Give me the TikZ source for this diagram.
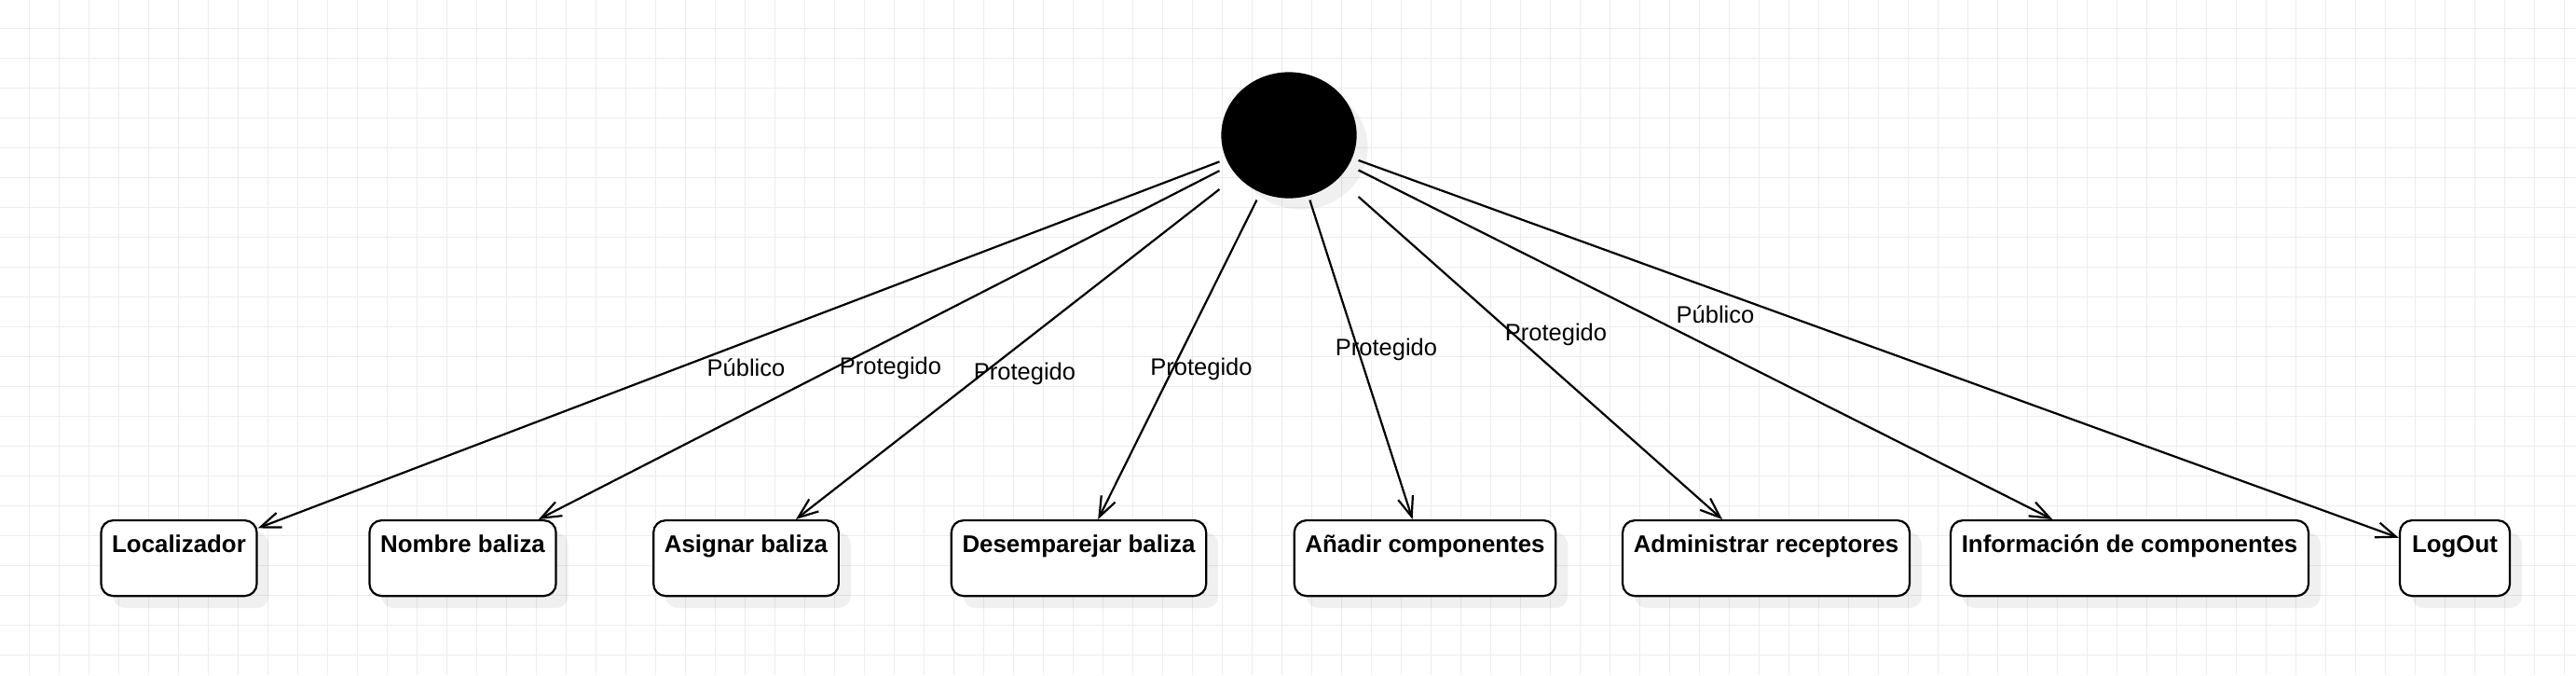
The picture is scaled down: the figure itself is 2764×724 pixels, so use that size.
\documentclass[tikz,border=0pt]{standalone}
\usepackage{fontspec}
\setmainfont{Liberation Sans}
\usetikzlibrary{arrows.meta, shadows}
\newcommand{\statefont}{\fontsize{7.35pt}{8.8pt}\selectfont\bfseries}
\newcommand{\guardfont}{\fontsize{7.25pt}{8.7pt}\selectfont}

\begin{document}
\begin{tikzpicture}[
        x=0.01cm, y=-0.01cm,
        grid_style/.style={black!7, line width=0.01cm},
        shadow_style/.style={drop shadow={shadow xshift=0.13cm, shadow yshift=-0.13cm, fill=black, opacity=0.06}},
        start_style/.style={rectangle, minimum width=1.43cm, minimum height=1.33cm, inner sep=0pt, outer sep=0.03cm},
        dot_style/.style={fill=black, draw, line width=0.022cm, shadow_style},
        state_style/.style={draw, fill=white, line width=0.022cm, rounded corners=0.13cm, anchor=north, inner ysep=0pt, text height=0.344cm, text depth=0.466cm, font=\statefont, shadow_style},
        edge_style/.style={line width=0.022cm, -{Straight Barb[length=0.215cm, width=0.165cm]}},
        guard_style/.style={anchor=base, inner sep=0pt, font=\guardfont}
    ]
        \useasboundingbox (0,0) rectangle (2764,724);

        % Grid
        \foreach \k in {0,...,85} \draw[grid_style] (31.3+32*\k,0) -- (31.3+32*\k,724);
        \foreach \k in {0,...,21} \draw[grid_style] (0,30.3+32*\k) -- (2764,30.3+32*\k);

        % Nodes
        \node[start_style] (start) at (1383,145) {};
        \path[dot_style] (start.center) ellipse [x radius=0.715cm, y radius=0.665cm];
        \node[state_style, minimum width=1.62cm] (loc) at (192,557) {Localizador};
        \node[state_style, minimum width=1.97cm] (nom) at (496.5,557) {Nombre baliza};
        \node[state_style, minimum width=1.95cm] (asig) at (800.5,557) {Asignar baliza};
        \node[state_style, minimum width=2.69cm] (desemp) at (1157.5,557) {Desemparejar baliza};
        \node[state_style, minimum width=2.76cm] (anadir) at (1529,557) {Añadir componentes};
        \node[state_style, minimum width=3.04cm] (admin) at (1895,557) {Administrar receptores};
        \node[state_style, minimum width=3.80cm] (info) at (2285,557) {Información de componentes};
        \node[state_style, minimum width=1.18cm] (logout) at (2634,557) {LogOut};

        % Transitions
        \draw[edge_style] (start) -- (loc);
        \draw[edge_style] (start) -- (nom);
        \draw[edge_style] (start) -- (asig);
        \draw[edge_style] (start) -- (desemp);
        \draw[edge_style] (start) -- (anadir);
        \draw[edge_style] (start) -- (admin);
        \draw[edge_style] (start) -- (info);
        \draw[edge_style] (start) -- (logout);

        % Labels
        \node[guard_style] (g_loc) at (800.5,403) {Público};
        \node[guard_style] (g_nom) at (955.5,401) {Protegido};
        \node[guard_style] (g_asig) at (1099.5,407) {Protegido};
        \node[guard_style] (g_desemp) at (1289,402.5) {Protegido};
        \node[guard_style] (g_anadir) at (1487.5,381) {Protegido};
        \node[guard_style] (g_admin) at (1669.5,365) {Protegido};
        \node[guard_style] (g_info) at (1840.5,346.5) {Público};
    \end{tikzpicture}
\end{document}
